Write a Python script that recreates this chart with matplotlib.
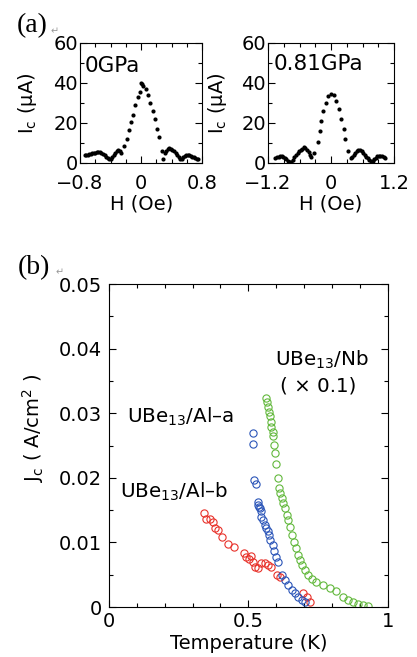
import matplotlib
matplotlib.use("Agg")
import matplotlib.pyplot as plt
from matplotlib.ticker import MultipleLocator

plt.rcParams['font.family'] = ['DejaVu Sans']
plt.rcParams['axes.linewidth'] = 0.8

# ---- panel (a): Ic vs H ----
h_0gpa = [-0.74, -0.72, -0.70, -0.68, -0.66, -0.64, -0.62, -0.60, -0.58, -0.56,
          -0.54, -0.52, -0.50, -0.48, -0.46, -0.44, -0.42, -0.40, -0.38, -0.36,
          -0.34, -0.32, -0.30, -0.28, -0.26,
          -0.22, -0.19, -0.16, -0.13, -0.105, -0.075, -0.045, -0.02, 0.0, 0.015,
          0.03, 0.06, 0.09, 0.12, 0.15, 0.18, 0.21, 0.24, 0.27, 0.29,
          0.31, 0.33, 0.35, 0.37, 0.39, 0.41, 0.43, 0.45, 0.47, 0.49, 0.51,
          0.53, 0.55, 0.57, 0.59, 0.61, 0.63, 0.65, 0.67, 0.69, 0.71, 0.73,
          0.75]
ic_0gpa = [4.0, 4.0, 4.2, 4.4, 4.6, 4.8, 4.8, 5.0, 5.3, 5.6,
           5.4, 5.0, 4.5, 4.0, 3.2, 2.5, 1.9, 2.2, 3.0, 3.8,
           4.8, 5.8, 6.5, 6.0, 4.8,
           8.5, 12.0, 16.5, 20.5, 24.0, 29.0, 33.0, 35.5, 40.0, 39.5,
           38.5, 37.0, 34.0, 30.0, 26.0, 22.0, 17.0, 13.0, 6.0, 2.0,
           4.8, 6.0, 7.0, 7.5, 7.0, 6.5, 5.8, 5.0, 4.0, 3.0, 2.2,
           2.0, 2.8, 3.5, 4.0, 4.0, 3.8, 3.4, 3.0, 2.8, 2.5, 2.2,
           1.8]

h_081gpa = [-1.06, -1.03, -1.00, -0.97, -0.94, -0.91, -0.88, -0.85, -0.82, -0.79,
            -0.76, -0.73, -0.70, -0.67, -0.64, -0.61, -0.58, -0.55, -0.52, -0.49,
            -0.46, -0.43, -0.40, -0.38,
            -0.32, -0.25, -0.22, -0.19, -0.15, -0.095, -0.05, 0.0, 0.05, 0.095,
            0.15, 0.19, 0.24, 0.27, 0.32, 0.38,
            0.40, 0.43, 0.46, 0.49, 0.52, 0.55, 0.58, 0.61, 0.64, 0.67, 0.70,
            0.73, 0.76, 0.79, 0.82, 0.85, 0.88, 0.91, 0.94, 0.97, 1.00, 1.03]
ic_081gpa = [2.5, 3.0, 3.2, 3.5, 3.4, 3.0, 2.5, 2.0, 1.2, 0.6,
             0.5, 1.5, 2.8, 4.0, 5.0, 5.8, 6.5, 7.2, 7.8, 7.3,
             6.5, 5.5, 4.2, 3.0,
             5.0, 10.5, 16.0, 20.7, 25.8, 30.0, 33.3, 34.5, 34.0, 31.0,
             27.0, 21.7, 16.7, 11.7, 5.8, 2.3,
             3.0, 4.0, 5.0, 6.0, 6.5, 6.3, 5.8, 5.0, 4.0, 3.0, 2.3,
             1.6, 1.2, 1.2, 1.8, 2.6, 3.3, 3.6, 3.5, 3.3, 3.0, 2.5]

# ---- panel (b): Jc vs T ----
t_alb = [0.340, 0.348, 0.362, 0.372, 0.380, 0.392, 0.407, 0.428, 0.449, 0.484,
         0.491, 0.503, 0.511, 0.517, 0.523, 0.535, 0.544, 0.559, 0.571, 0.583,
         0.603, 0.613, 0.696, 0.709, 0.720]
jc_alb = [0.0145, 0.0136, 0.0137, 0.0132, 0.0123, 0.0119, 0.0109, 0.0098, 0.0093, 0.0083,
          0.0077, 0.0075, 0.0079, 0.0070, 0.0062, 0.0060, 0.0068, 0.0068, 0.0065, 0.0062,
          0.0050, 0.0047, 0.0021, 0.0016, 0.0007]

t_ala = [0.517, 0.517, 0.520, 0.527, 0.533, 0.535, 0.539, 0.541, 0.545, 0.547,
         0.553, 0.559, 0.565, 0.571, 0.573, 0.577, 0.587, 0.593, 0.601, 0.607,
         0.619, 0.631, 0.643, 0.655, 0.667, 0.679, 0.691, 0.703]
jc_ala = [0.0269, 0.0253, 0.0196, 0.0190, 0.0163, 0.0158, 0.0155, 0.0153, 0.0148, 0.0140,
          0.0135, 0.0127, 0.0122, 0.0117, 0.0111, 0.0104, 0.0096, 0.0086, 0.0078, 0.0070,
          0.0050, 0.0042, 0.0034, 0.0026, 0.0021, 0.0016, 0.0011, 0.0008]

t_nb = [0.565, 0.567, 0.571, 0.575, 0.577, 0.580, 0.583, 0.587, 0.589, 0.593,
        0.597, 0.601, 0.605, 0.609, 0.613, 0.619, 0.625, 0.631, 0.637, 0.643,
        0.649, 0.655, 0.663, 0.670, 0.679, 0.685, 0.694, 0.703, 0.714, 0.727,
        0.744, 0.768, 0.792, 0.816, 0.840, 0.858, 0.876, 0.894, 0.912, 0.930]
jc_nb = [0.0323, 0.0318, 0.0310, 0.0302, 0.0295, 0.0287, 0.0279, 0.0271, 0.0264, 0.0251,
         0.0238, 0.0222, 0.0199, 0.0184, 0.0176, 0.0168, 0.0161, 0.0153, 0.0142, 0.0135,
         0.0124, 0.0111, 0.0101, 0.0091, 0.0080, 0.0073, 0.0065, 0.0057, 0.0050, 0.0044,
         0.0039, 0.0034, 0.0029, 0.0024, 0.0016, 0.0011, 0.0007, 0.0005, 0.0003, 0.0002]


def style_axes(ax, size, xpad, ypad):
    ax.tick_params(which='both', direction='in', top=True, right=True,
                   labelsize=size, width=0.8)
    ax.tick_params(which='major', length=5)
    ax.tick_params(which='minor', length=3)
    ax.tick_params(axis='x', pad=xpad)
    ax.tick_params(axis='y', pad=ypad)


fig = plt.figure(figsize=(4.17, 6.57), dpi=100)

ax1 = fig.add_axes([0.192, 0.752, 0.293, 0.183])
ax1.plot(h_0gpa, ic_0gpa, 'o', color='black', ms=3, mew=0)
ax1.set_xlim(-0.8, 0.8)
ax1.set_ylim(0, 60)
ax1.set_xticks([-0.8, 0, 0.8])
ax1.set_xticklabels(['\u22120.8', '0', '0.8'])
ax1.xaxis.set_minor_locator(MultipleLocator(0.2))
ax1.set_yticks([0, 20, 40, 60])
ax1.yaxis.set_minor_locator(MultipleLocator(10))
style_axes(ax1, 14, 8, 1.5)
ax1.set_xlabel('H (Oe)', fontsize=14)
ax1.xaxis.set_label_coords(0.5, -0.26)
ax1.set_ylabel(r'I$_{\rm c}$ (\u03bcA)'.replace('\\u03bc', '\u03bc'), fontsize=14)
ax1.yaxis.set_label_coords(-0.34, 0.5)
ax1.text(0.04, 0.81, '0GPa', transform=ax1.transAxes, fontsize=15.5, va='center')

ax2 = fig.add_axes([0.643, 0.752, 0.302, 0.183])
ax2.plot(h_081gpa, ic_081gpa, 'o', color='black', ms=3, mew=0)
ax2.set_xlim(-1.2, 1.2)
ax2.set_ylim(0, 60)
ax2.set_xticks([-1.2, 0, 1.2])
ax2.set_xticklabels(['\u22121.2', '0', '1.2'])
ax2.xaxis.set_minor_locator(MultipleLocator(0.3))
ax2.set_yticks([0, 20, 40, 60])
ax2.yaxis.set_minor_locator(MultipleLocator(10))
style_axes(ax2, 14, 8, 1.5)
ax2.set_xlabel('H (Oe)', fontsize=14)
ax2.xaxis.set_label_coords(0.5, -0.26)
ax2.set_ylabel('I$_{\\rm c}$ (\u03bcA)', fontsize=14)
ax2.yaxis.set_label_coords(-0.31, 0.5)
ax2.text(0.04, 0.82, '0.81GPa', transform=ax2.transAxes, fontsize=15.5, va='center')

ax3 = fig.add_axes([0.261, 0.0761, 0.669, 0.4916])
mk = dict(marker='o', ls='none', ms=5.2, mfc='none', mew=0.8)
ax3.plot(t_alb, jc_alb, color='#e8312a', **mk)
ax3.plot(t_ala, jc_ala, color='#2b55b8', **mk)
ax3.plot(t_nb, jc_nb, color='#62b83c', **mk)
ax3.set_xlim(0, 1)
ax3.set_ylim(0, 0.05)
ax3.set_xticks([0, 0.5, 1])
ax3.set_xticklabels(['0', '0.5', '1'])
ax3.xaxis.set_minor_locator(MultipleLocator(0.1))
ax3.set_yticks([0, 0.01, 0.02, 0.03, 0.04, 0.05])
ax3.set_yticklabels(['0', '0.01', '0.02', '0.03', '0.04', '0.05'])
ax3.yaxis.set_minor_locator(MultipleLocator(0.005))
style_axes(ax3, 14, 3.5, 5)
ax3.set_xlabel('Temperature (K)', fontsize=14)
ax3.xaxis.set_label_coords(0.5, -0.085)
ax3.set_ylabel('J$_{\\rm c}$ ( A/cm$^2$ )', fontsize=14)
ax3.yaxis.set_label_coords(-0.226, 0.554)

ax3.text(0.595, 0.0382, 'UBe$_{13}$/Nb', fontsize=14.3, va='center')
ax3.text(0.613, 0.0342, '( \u00d7 0.1)', fontsize=14.3, va='center')
ax3.text(0.065, 0.0294, 'UBe$_{13}$/Al\u2013a', fontsize=14.3, va='center')
ax3.text(0.039, 0.0178, 'UBe$_{13}$/Al\u2013b', fontsize=14.3, va='center')

fig.text(0.041, 0.961, '(a)', family='Liberation Serif', fontsize=20, va='center')
fig.text(0.043, 0.592, '(b)', family='Liberation Serif', fontsize=20, va='center')
fig.text(0.122, 0.953, '\u21b5', color='#999999', fontsize=7, va='center')
fig.text(0.132, 0.585, '\u21b5', color='#999999', fontsize=7, va='center')

fig.savefig('out.png', dpi=100)
